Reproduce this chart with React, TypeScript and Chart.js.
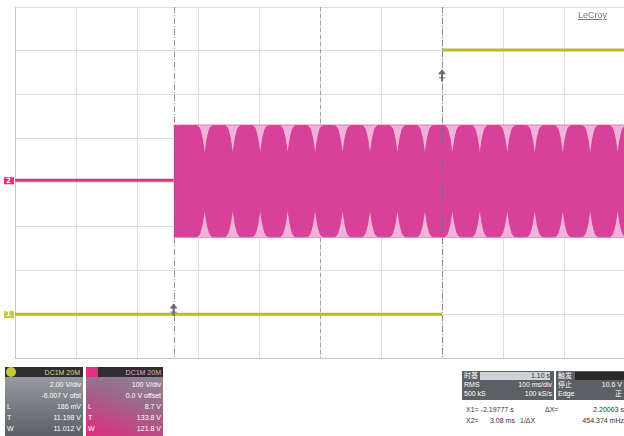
import React, { useEffect, useRef } from "react";
import { Chart, registerables } from "chart.js";
Chart.register(...registerables);

// Time axis in divisions (0..10), voltage axis in divisions (-4..4)
const ch1Times = [0, 7.0, 7.0, 7.0, 10];
const ch1Volts = [-3.0, -3.0, null, 3.02, 3.02];

const ch2IdleTimes = [0, 2.6];
const ch2IdleVolts = [0.05, 0.05];

const bandTimes = [2.6, 10];
const bandTopVolts = [1.31, 1.31];
const bandBottomVolts = [-1.25, -1.25];

// centres of the beat notches between the dark lobes
const notchTimes = [3.11, 3.57, 4.02, 4.47, 4.92, 5.37, 5.82, 6.27, 6.72, 7.17, 7.62, 8.07, 8.52, 8.98, 9.43, 9.88];
// shape of one notch (offset from notch centre, div)
const notchOffsets = [-0.12, -0.08, -0.04, 0, 0.04, 0.08, 0.12];
const notchTopVolts = [1.29, 1.22, 1.0, 0.67, 1.0, 1.22, 1.29];
const notchBottomVolts = [-1.23, -1.16, -0.95, -0.63, -0.95, -1.16, -1.23];
const lobeStart = [2.6, 1.29, -1.23];
const lobeEnd = [10.0, 1.29, -1.23];

const cursorTimes = [2.6, 7.0];
const centerTime = [5];
const ch1Marker = -3.0;
const ch2Marker = 0.05;

const W = 630;
const H = 365;

const pts = (xs: number[], ys: (number | null)[]) => xs.map((x, i) => ({ x, y: ys[i] }));

const envelope = (vals: number[], startV: number, endV: number) => {
  const out: { x: number; y: number }[] = [{ x: lobeStart[0], y: startV }];
  notchTimes.forEach((n) => {
    notchOffsets.forEach((o, i) => {
      const x = n + o;
      if (x <= lobeEnd[0]) out.push({ x, y: vals[i] });
    });
  });
  out.push({ x: lobeEnd[0], y: endV });
  return out;
};

const overlay = {
  id: "overlay",
  beforeDatasetsDraw(chart: any) {
    const { ctx, chartArea, scales } = chart;
    ctx.save();
    ctx.strokeStyle = "#a0a0a0";
    ctx.lineWidth = 1;
    ctx.setLineDash([4, 3]);
    centerTime.forEach((t) => {
      const x = Math.round(scales.x.getPixelForValue(t)) + 0.5;
      ctx.beginPath();
      ctx.moveTo(x, chartArea.top);
      ctx.lineTo(x, chartArea.bottom);
      ctx.stroke();
    });
    ctx.restore();
  },
  afterDatasetsDraw(chart: any) {
    const { ctx, chartArea, scales } = chart;
    ctx.save();
    ctx.strokeStyle = "rgba(110,110,110,0.7)";
    ctx.lineWidth = 1;
    ctx.setLineDash([6, 2, 1, 2]);
    cursorTimes.forEach((t) => {
      const x = Math.round(scales.x.getPixelForValue(t)) + 0.5;
      ctx.beginPath();
      ctx.moveTo(x, chartArea.top);
      ctx.lineTo(x, chartArea.bottom);
      ctx.stroke();
    });
    ctx.setLineDash([]);
    const drawArrow = (x: number, y: number) => {
      ctx.fillStyle = "#6a6a6a";
      ctx.beginPath();
      ctx.moveTo(x - 4, y - 2);
      ctx.lineTo(x + 4, y - 2);
      ctx.lineTo(x, y - 7);
      ctx.closePath();
      ctx.fill();
      ctx.fillRect(x - 1, y - 3, 2, 8);
      ctx.fillRect(x - 3, y + 1, 6, 1);
    };
    drawArrow(scales.x.getPixelForValue(cursorTimes[0]), scales.y.getPixelForValue(-2.92));
    drawArrow(scales.x.getPixelForValue(cursorTimes[1]), scales.y.getPixelForValue(2.42));
    ctx.font = "bold 7px 'DejaVu Sans'";
    ctx.textBaseline = "middle";
    ctx.fillStyle = "#e0307f";
    ctx.fillRect(4, scales.y.getPixelForValue(ch2Marker) - 3, 10, 7);
    ctx.fillStyle = "#ffffff";
    ctx.fillText("2", 6, scales.y.getPixelForValue(ch2Marker) + 0.5);
    ctx.fillStyle = "#c8c840";
    ctx.fillRect(4, scales.y.getPixelForValue(ch1Marker) - 3, 10, 7);
    ctx.fillStyle = "#ffffff";
    ctx.fillText("1", 6, scales.y.getPixelForValue(ch1Marker) + 0.5);
    ctx.restore();
  },
};

const txt: React.CSSProperties = {
  position: "absolute",
  fontFamily: "'Liberation Sans', 'Noto Sans CJK SC', sans-serif",
  fontSize: "7px",
  lineHeight: "9px",
  whiteSpace: "nowrap",
};

function InfoBoxes() {
  const c1Rows = ["2.00 V/div", "-6.007 V ofst", "186 mV", "11.198 V", "11.012 V"];
  const c2Rows = ["100 V/div", "0.0 V offset", "8.7 V", "133.8 V", "121.8 V"];
  const labels = ["", "", "L", "T", "W"];
  return (
    <>
      <div style={{ position: "absolute", left: 5, top: 367, width: 78, height: 69, background: "linear-gradient(#a0a4aa, #5a6066)" }} />
      <div style={{ position: "absolute", left: 5, top: 367, width: 78, height: 10, background: "#2e2e2e" }} />
      <div style={{ position: "absolute", left: 6, top: 367, width: 10, height: 10, borderRadius: 5, background: "#c8c83c" }} />
      <div style={{ ...txt, left: 30, top: 368, width: 50, textAlign: "right", color: "#d8d8a0" }}>DC1M 20M</div>
      {c1Rows.map((r, i) => (
        <div key={"c1" + i} style={{ ...txt, left: 20, top: 380 + i * 11, width: 61, textAlign: "right", color: "#ffffff" }}>{r}</div>
      ))}
      {labels.map((l, i) => (
        <div key={"c1l" + i} style={{ ...txt, left: 7, top: 380 + i * 11, color: "#ffffff" }}>{l}</div>
      ))}
      <div style={{ position: "absolute", left: 86, top: 367, width: 77, height: 69, background: "linear-gradient(200deg, #8e8e9e 0%, #9a6a8a 45%, #e02c80 100%)" }} />
      <div style={{ position: "absolute", left: 86, top: 367, width: 77, height: 10, background: "#2e2e2e" }} />
      <div style={{ position: "absolute", left: 86, top: 367, width: 12, height: 10, background: "#e0307f" }} />
      <div style={{ ...txt, left: 110, top: 368, width: 51, textAlign: "right", color: "#f0a0c8" }}>DC1M 20M</div>
      {c2Rows.map((r, i) => (
        <div key={"c2" + i} style={{ ...txt, left: 100, top: 380 + i * 11, width: 61, textAlign: "right", color: "#ffffff" }}>{r}</div>
      ))}
      {labels.map((l, i) => (
        <div key={"c2l" + i} style={{ ...txt, left: 88, top: 380 + i * 11, color: "#ffffff" }}>{l}</div>
      ))}
      <div style={{ position: "absolute", left: 462, top: 371, width: 162, height: 29, background: "#5c6064" }} />
      <div style={{ position: "absolute", left: 480, top: 372, width: 70, height: 8, background: "#cfd2d6" }} />
      <div style={{ position: "absolute", left: 575, top: 372, width: 49, height: 8, background: "#2a2a2a" }} />
      <div style={{ position: "absolute", left: 554, top: 371, width: 2, height: 29, background: "#ffffff" }} />
      <div style={{ ...txt, left: 464, top: 371, color: "#ffffff" }}>时基</div>
      <div style={{ ...txt, left: 500, top: 371, width: 50, textAlign: "right", color: "#333" }}>1.10 s</div>
      <div style={{ ...txt, left: 558, top: 371, color: "#ffffff" }}>触发</div>
      <div style={{ ...txt, left: 464, top: 380, color: "#ffffff" }}>RMS</div>
      <div style={{ ...txt, left: 490, top: 380, width: 62, textAlign: "right", color: "#ffffff" }}>100 ms/div</div>
      <div style={{ ...txt, left: 558, top: 380, color: "#ffffff" }}>停止</div>
      <div style={{ ...txt, left: 580, top: 380, width: 42, textAlign: "right", color: "#ffffff" }}>10.6 V</div>
      <div style={{ ...txt, left: 464, top: 389, color: "#ffffff" }}>500 kS</div>
      <div style={{ ...txt, left: 490, top: 389, width: 62, textAlign: "right", color: "#ffffff" }}>100 kS/s</div>
      <div style={{ ...txt, left: 558, top: 389, color: "#ffffff" }}>Edge</div>
      <div style={{ ...txt, left: 580, top: 389, width: 42, textAlign: "right", color: "#ffffff" }}>正</div>
      <div style={{ ...txt, left: 466, top: 405, color: "#333" }}>X1= -2.19777 s</div>
      <div style={{ ...txt, left: 545, top: 405, color: "#333" }}>ΔX=</div>
      <div style={{ ...txt, left: 570, top: 405, width: 54, textAlign: "right", color: "#333" }}>2.20003 s</div>
      <div style={{ ...txt, left: 466, top: 416, color: "#333" }}>X2=</div>
      <div style={{ ...txt, left: 490, top: 416, color: "#333" }}>3.08 ms</div>
      <div style={{ ...txt, left: 520, top: 416, color: "#333" }}>1/ΔX</div>
      <div style={{ ...txt, left: 545, top: 416, width: 79, textAlign: "right", color: "#333" }}>454.374 mHz</div>
    </>
  );
}

export default function App() {
  const ref = useRef<HTMLCanvasElement | null>(null);
  useEffect(() => {
    if (!ref.current) return;
    const chart = new Chart(ref.current, {
      type: "line",
      data: {
        datasets: [
          {
            label: "C1",
            data: pts(ch1Times, ch1Volts),
            borderColor: "#b8bb2e",
            borderWidth: 3,
            pointRadius: 0,
            tension: 0,
            spanGaps: false,
            order: 1,
          },
          {
            label: "C2 idle",
            data: pts(ch2IdleTimes, ch2IdleVolts),
            borderColor: "#e0307f",
            borderWidth: 3,
            pointRadius: 0,
            order: 2,
          },
          {
            label: "C2 lobes top",
            data: envelope(notchTopVolts, lobeStart[1], lobeEnd[1]),
            borderColor: "rgba(214,56,146,0.9)",
            backgroundColor: "#d8409a",
            borderWidth: 1,
            pointRadius: 0,
            tension: 0.2,
            fill: 3,
            order: 3,
          },
          {
            label: "C2 lobes bottom",
            data: envelope(notchBottomVolts, lobeStart[2], lobeEnd[2]),
            borderColor: "rgba(214,56,146,0.9)",
            borderWidth: 1,
            pointRadius: 0,
            tension: 0.2,
            order: 3,
          },
          {
            label: "C2 band top",
            data: pts(bandTimes, bandTopVolts),
            borderColor: "#e27ab6",
            backgroundColor: "#efb4d8",
            borderWidth: 1,
            pointRadius: 0,
            fill: 5,
            order: 6,
          },
          {
            label: "C2 band bottom",
            data: pts(bandTimes, bandBottomVolts),
            borderColor: "#e27ab6",
            borderWidth: 1,
            pointRadius: 0,
            order: 6,
          },
        ],
      },
      options: {
        animation: false,
        responsive: false,
        devicePixelRatio: 1,
        layout: { padding: { left: 15, top: 7, right: W - 625, bottom: H - 358 } },
        plugins: { legend: { display: false }, tooltip: { enabled: false } },
        scales: {
          x: {
            type: "linear",
            min: 0,
            max: 10,
            ticks: { display: false, stepSize: 1 },
            grid: { color: "#dedede", lineWidth: 1, drawTicks: false },
            border: { display: true, color: "#c8c8c8" },
          },
          y: {
            type: "linear",
            min: -4,
            max: 4,
            ticks: { display: false, stepSize: 1 },
            grid: { color: "#dedede", lineWidth: 1, drawTicks: false },
            border: { display: true, color: "#c8c8c8" },
          },
        },
      },
      plugins: [overlay],
    });
    return () => chart.destroy();
  }, []);
  return (
    <div style={{ position: "absolute", left: 0, top: 0, width: 624, height: 436, overflow: "hidden", background: "#ffffff" }}>
      <canvas ref={ref} width={W} height={H} style={{ position: "absolute", left: 0, top: 0, width: W, height: H }} />
      <div style={{ position: "absolute", left: 578, top: 10, fontFamily: "'Liberation Sans', sans-serif", fontSize: "9px", color: "#777", textDecoration: "underline" }}>LeCroy</div>
      <InfoBoxes />
    </div>
  );
}
